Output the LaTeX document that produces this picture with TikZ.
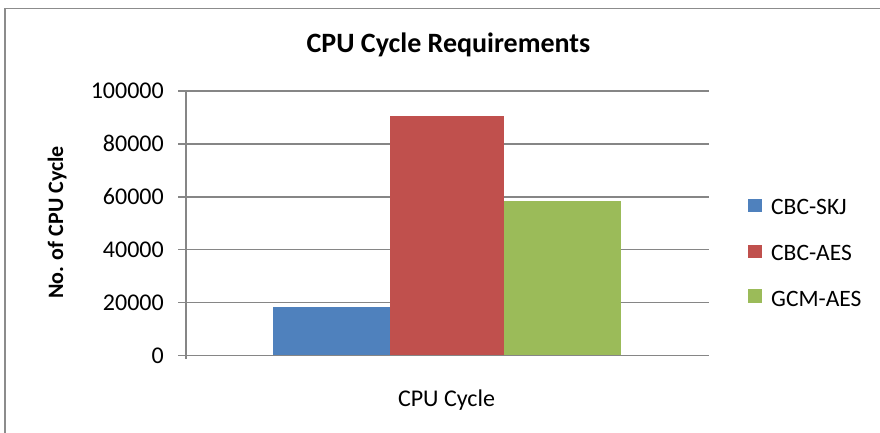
\documentclass[tikz,border=0pt]{standalone}
\usepackage{fontspec}
\setmainfont{Carlito}
\definecolor{skj}{HTML}{4F81BD}
\definecolor{cbcaes}{HTML}{C0504D}
\definecolor{gcmaes}{HTML}{9BBB59}
\definecolor{gridgray}{HTML}{868686}
\definecolor{framegray}{HTML}{8C8C8C}
\begin{document}
\begin{tikzpicture}[x=1pt,y=-1pt,
  gridline/.style={draw=gridgray,line width=1.6pt},
  framebox/.style={draw=framegray,line width=1.4pt},
  lbl/.style={inner sep=0pt,font=\fontsize{24}{28}\selectfont},
  leg/.style={inner sep=0pt,font=\fontsize{23.5}{28}\selectfont},
  ttl/.style={inner sep=0pt,font=\bfseries\fontsize{28}{32}\selectfont},
  ytl/.style={inner sep=0pt,font=\bfseries\fontsize{22}{26}\selectfont},
  legsq/.style={inner sep=0pt,minimum size=13.5pt},
  bar/.style={draw=none}]
\useasboundingbox (0,0) rectangle (880,433);
% chart frame (only top and left edges are inside the picture)
\draw[framebox] (5,440) -- (5,8.5) -- (890,8.5);
% title
\node[ttl,anchor=base] (title) at (448.5,53) {CPU Cycle Requirements};
% gridlines, ticks and tick labels
\foreach \v/\k in {0/0,20000/1,40000/2,60000/3,80000/4,100000/5}{
  \pgfmathsetmacro{\yy}{355.3-\k*52.86}
  \draw[gridline] (178,\yy) -- (709,\yy);
  \node[lbl,anchor=east] (tick\k) at (164,\yy) {\v};
}
% bars
\fill[bar,skj]    (272.5,355.3) rectangle (390,306.5);
\fill[bar,cbcaes] (390,355.3)   rectangle (504,116);
\fill[bar,gcmaes] (504,355.3)   rectangle (621,201);
% axes
\draw[gridline] (186,91) -- (186,355.3);
\draw[gridline] (178,355.3) -- (709,355.3);
\draw[gridline] (186,355.3) -- (186,359);
% axis titles
\node[lbl,anchor=base] (xtitle) at (446.5,406.5) {CPU Cycle};
\node[ytl,anchor=base,rotate=90] (ytitle) at (63,222.5) {No. of CPU Cycle};
% legend
\node[legsq,fill=skj]    (lsq1) at (755,205.5) {};
\node[legsq,fill=cbcaes] (lsq2) at (755,251.5) {};
\node[legsq,fill=gcmaes] (lsq3) at (755,296) {};
\node[leg,anchor=base west] (ltx1) at (771,214.5) {CBC-SKJ};
\node[leg,anchor=base west] (ltx2) at (771,260) {CBC-AES};
\node[leg,anchor=base west] (ltx3) at (771,306) {GCM-AES};
\end{tikzpicture}
\end{document}
